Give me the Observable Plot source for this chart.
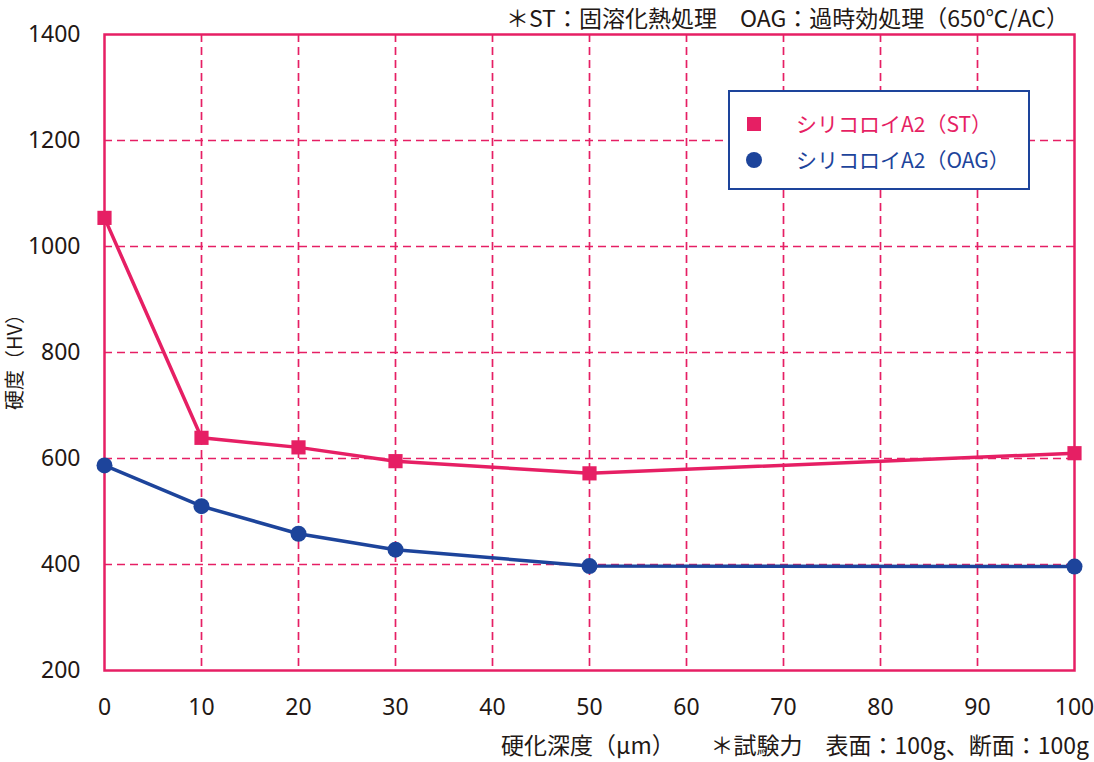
<!DOCTYPE html>
<html>
<head>
<meta charset="utf-8">
<script src="https://cdn.jsdelivr.net/npm/d3@7"></script>
<script src="https://cdn.jsdelivr.net/npm/@observablehq/plot@0.6"></script>
<style>
  html, body { margin: 0; padding: 0; background: #fff; }
  #wrap { position: relative; width: 1094px; height: 762px; overflow: hidden;
          font-family: "Noto Sans CJK JP", "Noto Sans", sans-serif; color: #231815; }
  .txt { position: absolute; white-space: nowrap; font-size: 22px; line-height: 1; }
  #legend { position: absolute; left: 728px; top: 90px; width: 298px; height: 96px;
            border: 2px solid #1d449b; background: #fff; }
  .row { position: absolute; left: 0; height: 24px; }
  .row svg { position: absolute; left: 14px; top: 0; }
  .row span { position: absolute; left: 66px; top: 1px; font-size: 21px; white-space: nowrap; line-height: 1; }
</style>
</head>
<body>
<div id="wrap">
  <div id="chart"></div>
  <div class="txt" id="topnote" style="right:25px; top:6px; font-size:23px;"></div>
  <div class="txt" id="ylabel" style="left:14px; top:357px; font-size:20px; transform-origin: 0 0; transform: rotate(-90deg) translate(-50%, -50%);"></div>
  <div class="txt" id="xlabel" style="left:501px; top:733px; font-size:23px;"></div>
  <div class="txt" id="caption" style="right:5px; top:733px; font-size:23px;"></div>
  <div id="legend"></div>
</div>
<script>
// ---- data ----
const depth = [0, 10, 20, 30, 50, 100];
const stValues = [1054, 639, 621, 595, 572, 610];
const oagValues = [587, 510, 458, 428, 397, 396];
const seriesNames = ["シリコロイA2（ST）", "シリコロイA2（OAG）"];
const xTicks = [0, 10, 20, 30, 40, 50, 60, 70, 80, 90, 100];
const yTicks = [200, 400, 600, 800, 1000, 1200, 1400];
const xLabelText = "硬化深度（μm）";
const yLabelText = "硬度（HV）";
const topNoteText = "＊ST：固溶化熱処理　OAG：過時効処理（650℃/AC）";
const captionText = "＊試験力　表面：100g、断面：100g";

const pink = "#e61f64";
const blue = "#1d449b";

const stData = depth.map((d, i) => ({depth: d, hv: stValues[i]}));
const oagData = depth.map((d, i) => ({depth: d, hv: oagValues[i]}));

const chart = Plot.plot({
  width: 1094,
  height: 762,
  marginTop: 34,
  marginBottom: 92,
  marginLeft: 104,
  marginRight: 20,
  style: {fontFamily: "'Noto Sans', 'Noto Sans CJK JP', sans-serif", fontSize: "23px", color: "#231815", background: "transparent"},
  x: {domain: [0, 100]},
  y: {domain: [200, 1400]},
  marks: [
    Plot.gridX(xTicks.slice(1, -1), {stroke: pink, strokeOpacity: 1, strokeWidth: 1.7, strokeDasharray: "8,5"}),
    Plot.gridY(yTicks.slice(1, -1), {stroke: pink, strokeOpacity: 1, strokeWidth: 1.7, strokeDasharray: "8,5"}),
    Plot.frame({stroke: pink, strokeWidth: 2.5}),
    Plot.axisX(xTicks, {tickSize: 0, tickPadding: 28, label: null, tickFormat: d => String(d)}),
    Plot.axisY(yTicks, {tickSize: 0, tickPadding: 24, label: null, tickFormat: d => String(d)}),
    Plot.line(stData, {x: "depth", y: "hv", stroke: pink, strokeWidth: 3.5}),
    Plot.line(oagData, {x: "depth", y: "hv", stroke: blue, strokeWidth: 3.5}),
    Plot.dot(stData, {x: "depth", y: "hv", symbol: "square", r: 8, fill: pink, stroke: "none"}),
    Plot.dot(oagData, {x: "depth", y: "hv", symbol: "circle", r: 8, fill: blue, stroke: "none"})
  ]
});
document.getElementById("chart").appendChild(chart);

document.getElementById("topnote").textContent = topNoteText;
document.getElementById("xlabel").textContent = xLabelText;
document.getElementById("ylabel").textContent = yLabelText;
document.getElementById("caption").textContent = captionText;

// legend
const legend = document.getElementById("legend");
const items = [
  {name: seriesNames[0], color: pink, shape: "square", top: 20},
  {name: seriesNames[1], color: blue, shape: "circle", top: 56}
];
for (const it of items) {
  const row = document.createElement("div");
  row.className = "row";
  row.style.top = it.top + "px";
  row.style.width = "100%";
  const svg = d3.create("svg").attr("width", 20).attr("height", 24);
  if (it.shape === "square") svg.append("rect").attr("x", 3).attr("y", 5).attr("width", 14).attr("height", 14).attr("fill", it.color);
  else svg.append("circle").attr("cx", 10).attr("cy", 12).attr("r", 8).attr("fill", it.color);
  row.appendChild(svg.node());
  const span = document.createElement("span");
  span.textContent = it.name;
  span.style.color = it.color;
  row.appendChild(span);
  legend.appendChild(row);
}
</script>
</body>
</html>
